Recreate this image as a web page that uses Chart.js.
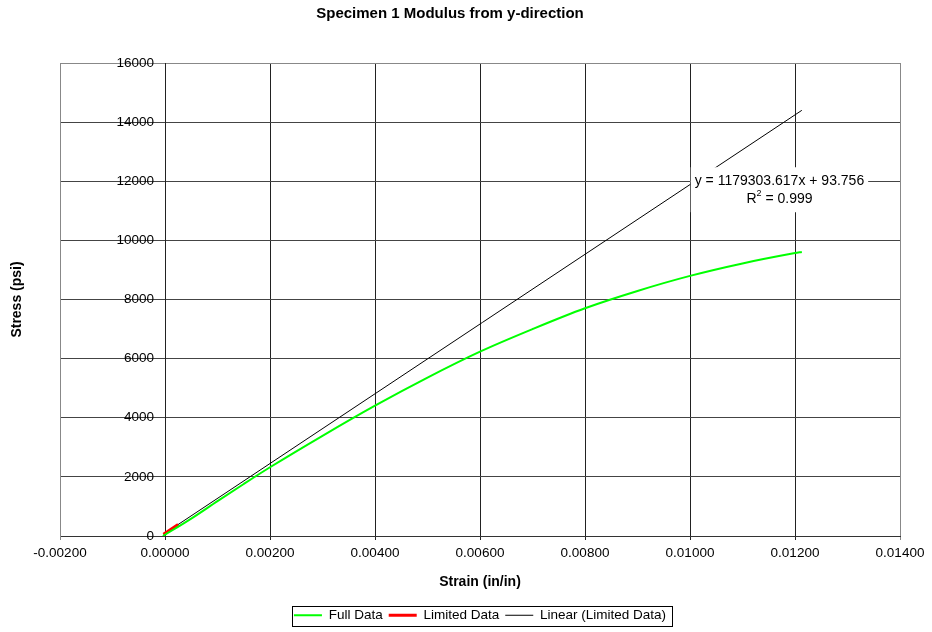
<!DOCTYPE html>
<html lang="en">
<head>
  <meta charset="UTF-8">
  <title>Specimen 1 Modulus from y-direction</title>
  <script src="https://cdn.jsdelivr.net/npm/chart.js"></script>
  <style>
    html, body { margin: 0; padding: 0; background: #fff; }
    #wrap { width: 932px; height: 632px; }
  </style>
</head>
<body>
<div id="wrap"><canvas id="modChart"></canvas></div>

<script>
  // strain (in/in) / stress (psi)
  const fullStrain = [-0.00004, 0.0005, 0.001, 0.0015, 0.002, 0.003, 0.004, 0.005, 0.006, 0.007, 0.008, 0.009, 0.010, 0.011, 0.012, 0.01213];
  const fullStress = [0, 590, 1180, 1760, 2325, 3390, 4410, 5360, 6237, 7000, 7705, 8290, 8799, 9220, 9570, 9610];

  const limStrain = [-0.00003, 0.00005, 0.0001, 0.00015, 0.0002, 0.00025];
  const limStress = [60, 150, 210, 270, 330, 390];

  // trendline end points (y = 1179303.617x + 93.756)
  const fitStrain = [-0.00003, 0.01213];
  const fitStress = [58, 14399];

  const xTicks = [-0.002, 0, 0.002, 0.004, 0.006, 0.008, 0.010, 0.012, 0.014];
  const yTicks = [0, 2000, 4000, 6000, 8000, 10000, 12000, 14000, 16000];

  const eqText = "y = 1179303.617x + 93.756";
  const r2Value = " = 0.999";

  const FONT = "Arial, 'Liberation Sans', sans-serif";

  function pts(xs, ys) {
    return xs.map((x, i) => ({ x: x, y: ys[i] }));
  }

  Chart.defaults.font.family = FONT;
  Chart.defaults.font.size = 13.5;
  Chart.defaults.color = "#000";

  // y tick labels beside the axis at x = 0, legend frame, trendline label
  const extras = {
    id: "extras",
    afterDraw(chart) {
      const ctx = chart.ctx;
      const xs = chart.scales.x, ys = chart.scales.y;

      const axisX = xs.getPixelForValue(0);
      ctx.save();
      ctx.font = "13.5px " + FONT;
      ctx.fillStyle = "#000";
      ctx.textAlign = "right";
      ctx.textBaseline = "middle";
      ys.ticks.forEach(t => {
        ctx.fillText(String(t.value), axisX - 11, ys.getPixelForValue(t.value));
      });
      ctx.restore();

      const lg = chart.legend;
      if (lg && lg.legendHitBoxes.length) {
        const boxes = lg.legendHitBoxes;
        const last = boxes[boxes.length - 1];
        const l = boxes[0].left - 2;
        const r = last.left + last.width + 6;
        const t = boxes[0].top - 3;
        const b = boxes[0].top + boxes[0].height + 3;
        ctx.save();
        ctx.strokeStyle = "#000";
        ctx.lineWidth = 1;
        ctx.strokeRect(Math.round(l) + 0.5, Math.round(t) + 0.5, Math.round(r - l), Math.round(b - t));
        ctx.restore();
      }

      const px = xs.getPixelForValue(0.01009);
      const py = ys.getPixelForValue(12000);
      ctx.save();
      ctx.font = "14px " + FONT;
      ctx.textBaseline = "middle";
      const w = ctx.measureText(eqText).width;
      ctx.fillStyle = "#fff";
      ctx.fillRect(px - 4, py - 14, w + 8, 45);
      ctx.fillStyle = "#000";
      ctx.textAlign = "left";
      ctx.fillText(eqText, px, py);
      const cx = px + w / 2;
      const wr = ctx.measureText("R").width;
      const w2 = ctx.measureText(r2Value).width;
      const sx = cx - (wr + 5 + w2) / 2;
      ctx.fillText("R", sx, py + 18);
      ctx.font = "9px " + FONT;
      ctx.fillText("2", sx + wr, py + 12);
      ctx.font = "14px " + FONT;
      ctx.fillText(r2Value, sx + wr + 5, py + 18);
      ctx.restore();
    }
  };

  document.addEventListener("DOMContentLoaded", function () {
    const ctx = document.getElementById("modChart").getContext("2d");

    new Chart(ctx, {
      type: "scatter",
      data: {
        datasets: [{
          label: "Full Data",
          data: pts(fullStrain, fullStress),
          showLine: true,
          borderColor: "#00ff00",
          backgroundColor: "#00ff00",
          borderWidth: 2,
          pointRadius: 0,
          cubicInterpolationMode: "monotone"
        }, {
          label: "Limited Data",
          data: pts(limStrain, limStress),
          showLine: true,
          borderColor: "#ff0000",
          backgroundColor: "#ff0000",
          borderWidth: 3,
          pointRadius: 0
        }, {
          label: "Linear (Limited Data)",
          data: pts(fitStrain, fitStress),
          showLine: true,
          borderColor: "#000",
          backgroundColor: "#000",
          borderWidth: 1,
          pointRadius: 0
        }]
      },
      options: {
        responsive: true,
        maintainAspectRatio: false,
        animation: false,
        layout: { padding: { left: 0, right: 32, top: 0, bottom: 0 } },
        plugins: {
          title: {
            display: true,
            text: "Specimen 1 Modulus from y-direction",
            font: { size: 15, weight: "bold" },
            padding: { top: 5, bottom: 40 }
          },
          legend: {
            position: "bottom",
            fullSize: false,
            labels: {
              usePointStyle: true,
              pointStyle: "line",
              pointStyleWidth: 28,
              padding: 6,
              font: { size: 13.5 }
            }
          },
          tooltip: { enabled: false }
        },
        scales: {
          x: {
            type: "linear",
            min: -0.002,
            max: 0.014,
            afterBuildTicks: (s) => { s.ticks = xTicks.map(v => ({ value: v })); },
            ticks: {
              callback: (v) => Number(v).toFixed(5),
              padding: 5,
              maxRotation: 0,
              font: { size: 13.5 }
            },
            grid: {
              color: (c) => (c.index === 0 || c.index === xTicks.length - 1) ? "#888" : "#222",
              tickLength: 4
            },
            border: { color: "#333" },
            title: {
              display: true,
              text: "Strain (in/in)",
              font: { size: 14, weight: "bold" },
              padding: { top: 7.5, bottom: 12 }
            }
          },
          y: {
            type: "linear",
            position: { x: 0 },
            min: 0,
            max: 16000,
            afterBuildTicks: (s) => { s.ticks = yTicks.map(v => ({ value: v })); },
            ticks: { display: false },
            grid: {
              color: (c) => c.index === yTicks.length - 1 ? "#888" : "#444",
              tickLength: 4
            },
            border: { color: "#222" }
          },
          yl: {
            type: "linear",
            position: "left",
            min: 0,
            max: 16000,
            ticks: { display: false },
            grid: { display: false, drawTicks: false },
            border: { color: "#888" },
            title: {
              display: true,
              text: "Stress (psi)",
              font: { size: 14, weight: "bold" },
              padding: { top: 8.6, bottom: 34.6 }
            }
          }
        }
      },
      plugins: [extras]
    });
  });
</script>
</body>
</html>
